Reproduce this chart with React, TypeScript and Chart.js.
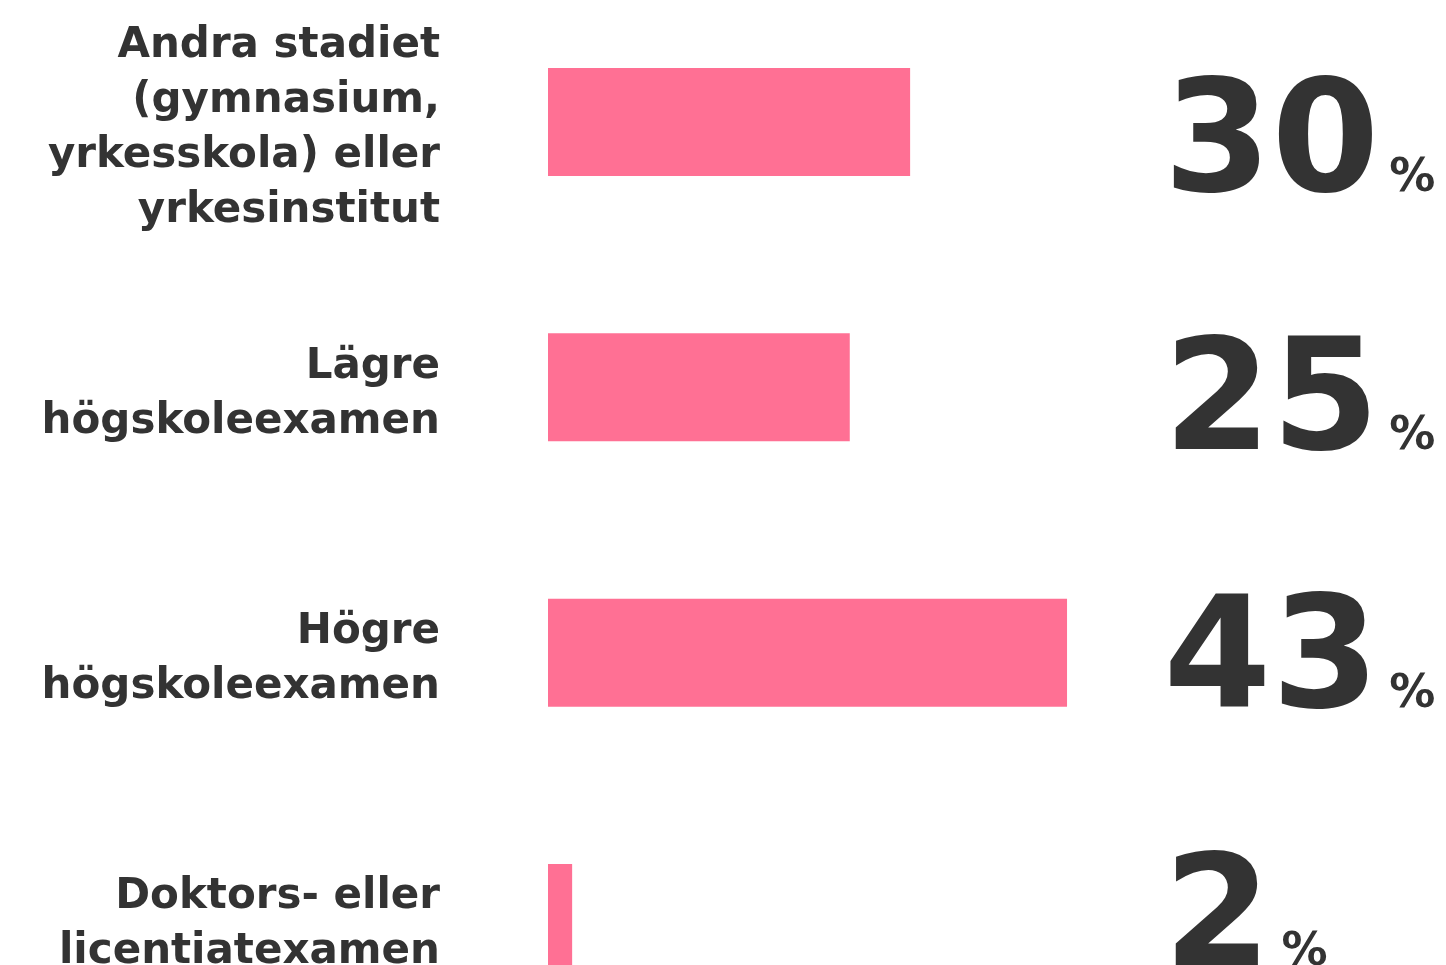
import React, { useEffect, useRef } from "react";
import { Chart, registerables } from "chart.js";

Chart.register(...registerables);

const categories: string[][] = [
  ["Andra stadiet", "(gymnasium,", "yrkesskola) eller", "yrkesinstitut"],
  ["Lägre", "högskoleexamen"],
  ["Högre", "högskoleexamen"],
  ["Doktors- eller", "licentiatexamen"],
];
const values: number[] = [30, 25, 43, 2];
const valueLabels: string[] = ["30", "25", "43", "2"];
const unitLabel = "%";

const TEXT = "#333333";
const BAR = "#ff7094";

const valuePlugin = {
  id: "bigValues",
  afterDatasetsDraw(chart: any) {
    const ctx = chart.ctx;
    const yScale = chart.scales.y;
    const area = chart.chartArea;
    ctx.save();
    ctx.fillStyle = TEXT;
    ctx.textBaseline = "alphabetic";
    ctx.textAlign = "left";
    valueLabels.forEach((lab, i) => {
      const yc = yScale.getPixelForValue(i);
      const base = yc + 69 - 7.4 * i;
      const x = area.right;
      ctx.font = "bold 155px 'DejaVu Sans'";
      ctx.fillText(lab, x, base);
      const w = ctx.measureText(lab).width;
      ctx.font = "bold 46px 'DejaVu Sans'";
      ctx.fillText(unitLabel, x + w + 10, base);
    });
    ctx.restore();
  },
};

export default function App() {
  const ref = useRef<HTMLCanvasElement | null>(null);
  useEffect(() => {
    if (!ref.current) return;
    const chart = new Chart(ref.current, {
      type: "bar",
      data: {
        labels: categories as any,
        datasets: [
          {
            data: values,
            backgroundColor: BAR,
            borderWidth: 0,
            categoryPercentage: 1,
            barPercentage: 0.407,
          },
        ],
      },
      options: {
        indexAxis: "y",
        animation: false,
        responsive: true,
        maintainAspectRatio: false,
        layout: { padding: { left: 0, right: 282.4, top: 9.4, bottom: 9.4 } },
        plugins: {
          legend: { display: false },
          tooltip: { enabled: false },
        },
        scales: {
          x: { display: false, min: 0, max: 51 },
          y: {
            afterFit: (scale: any) => {
              scale.width = 548;
              scale.paddingTop = 0;
              scale.paddingBottom = 0;
            },
            grid: { display: false, drawTicks: false },
            border: { display: false },
            ticks: {
              padding: 108,
              labelOffset: 7,
              color: TEXT,
              font: { family: "'DejaVu Sans'", weight: "bold", size: 42, lineHeight: "55px" },
            },
          },
        },
      },
      plugins: [valuePlugin],
    });
    return () => chart.destroy();
  }, []);

  return (
    <div style={{ position: "fixed", left: 0, top: 0, width: 1446, height: 965, overflow: "hidden", background: "#fff" }}>
      <div style={{ position: "absolute", left: 0, top: -20, width: 1446, height: 1080 }}>
        <canvas ref={ref} />
      </div>
    </div>
  );
}
